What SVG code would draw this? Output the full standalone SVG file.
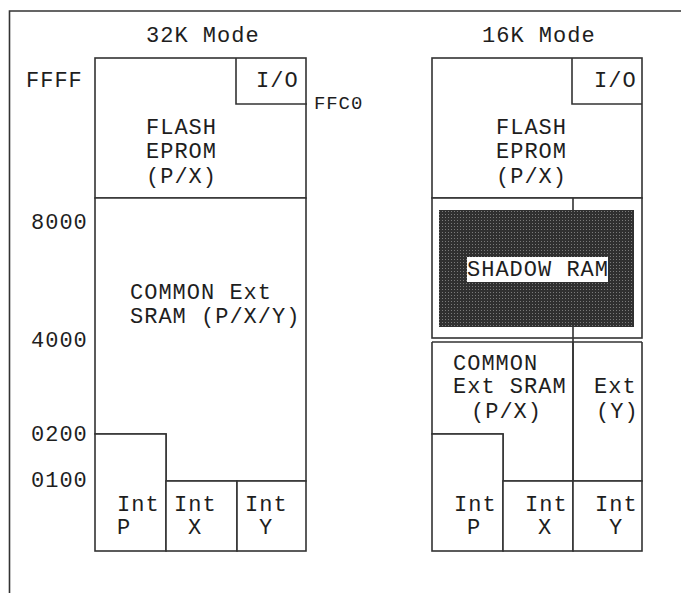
<svg xmlns="http://www.w3.org/2000/svg" width="681" height="593" viewBox="0 0 681 593">
<defs>
<style>
.ln{fill:none;stroke:#333;stroke-width:1.6}
.box{fill:#fff;stroke:#333;stroke-width:1.6}
text{font-family:"Liberation Mono","Courier New",monospace;font-size:22px;letter-spacing:1px;fill:#1e1e1e}
.sm{font-size:19px;letter-spacing:0.9px}
</style>
<pattern id="dots" width="3" height="3" patternUnits="userSpaceOnUse">
<rect width="3" height="3" fill="#303030"/>
<rect x="1" y="1" width="1" height="1" fill="#7a7a7a"/>
</pattern>
<clipPath id="shclip"><rect x="467" y="257" width="141" height="25"/></clipPath>
</defs>
<rect width="681" height="593" fill="#fff"/>

<g id="frame">
<path class="ln" d="M9.5 593 V11 H681"/>
</g>

<g id="titles">
<text x="146" y="42">32K Mode</text>
<text x="482" y="42">16K Mode</text>
</g>

<g id="addresses">
<text x="26" y="87">FFFF</text>
<text x="31" y="229">8000</text>
<text x="31" y="347">4000</text>
<text x="31" y="441">0200</text>
<text x="31" y="487">0100</text>
<text class="sm" x="314" y="109">FFC0</text>
</g>

<!-- 32K mode map -->
<g id="flash32">
<rect class="box" x="95" y="58" width="211" height="140"/>
<text x="146" y="134">FLASH</text>
<text x="146" y="158">EPROM</text>
<text x="146" y="183">(P/X)</text>
</g>
<g id="io32">
<path class="ln" d="M236 58 V104 H307"/>
<text x="256" y="87">I/O</text>
</g>
<g id="sram32">
<path class="box" d="M95 198 H306 V481 H166 V434 H95 Z"/>
<text x="130" y="299">COMMON Ext</text>
<text x="130" y="323">SRAM (P/X/Y)</text>
</g>
<g id="intp32">
<rect class="box" x="95" y="434" width="71" height="117"/>
<text x="117" y="511">Int</text>
<text x="117" y="534">P</text>
</g>
<g id="intx32">
<rect class="box" x="166" y="481" width="71" height="70"/>
<text x="174" y="511">Int</text>
<text x="188" y="534">X</text>
</g>
<g id="inty32">
<rect class="box" x="237" y="481" width="69" height="70"/>
<text x="245" y="511">Int</text>
<text x="259" y="534">Y</text>
</g>

<!-- 16K mode map -->
<g id="flash16">
<rect class="box" x="432" y="58" width="210" height="140"/>
<text x="496" y="134">FLASH</text>
<text x="496" y="158">EPROM</text>
<text x="496" y="183">(P/X)</text>
</g>
<g id="io16">
<path class="ln" d="M572 58 V104 H642"/>
<text x="594" y="87">I/O</text>
</g>
<g id="shadow16">
<rect class="box" x="432" y="198" width="210" height="140"/>
<path class="ln" d="M573 198 V212"/>
<path class="ln" d="M432 342 H642"/>
<rect x="439" y="210" width="195" height="117" fill="url(#dots)"/>
<rect x="467" y="257" width="141" height="25" fill="#fff"/>
<text x="467" y="276" clip-path="url(#shclip)">SHADOW RAM</text>
</g>
<g id="sram16">
<path class="ln" d="M432 342 V434 H503 V481 H573 V342"/>
<text x="453" y="370">COMMON</text>
<text x="453" y="393">Ext SRAM</text>
<text x="471" y="418">(P/X)</text>
</g>
<g id="exty16">
<path class="ln" d="M573 326 V481 H642 V342"/>
<text x="594" y="393">Ext</text>
<text x="596" y="418">(Y)</text>
</g>
<g id="intp16">
<rect class="box" x="432" y="434" width="71" height="117"/>
<text x="454" y="511">Int</text>
<text x="467" y="534">P</text>
</g>
<g id="intx16">
<rect class="box" x="503" y="481" width="70" height="70"/>
<text x="525" y="511">Int</text>
<text x="538" y="534">X</text>
</g>
<g id="inty16">
<rect class="box" x="573" y="481" width="69" height="70"/>
<text x="595" y="511">Int</text>
<text x="609" y="534">Y</text>
</g>
</svg>
